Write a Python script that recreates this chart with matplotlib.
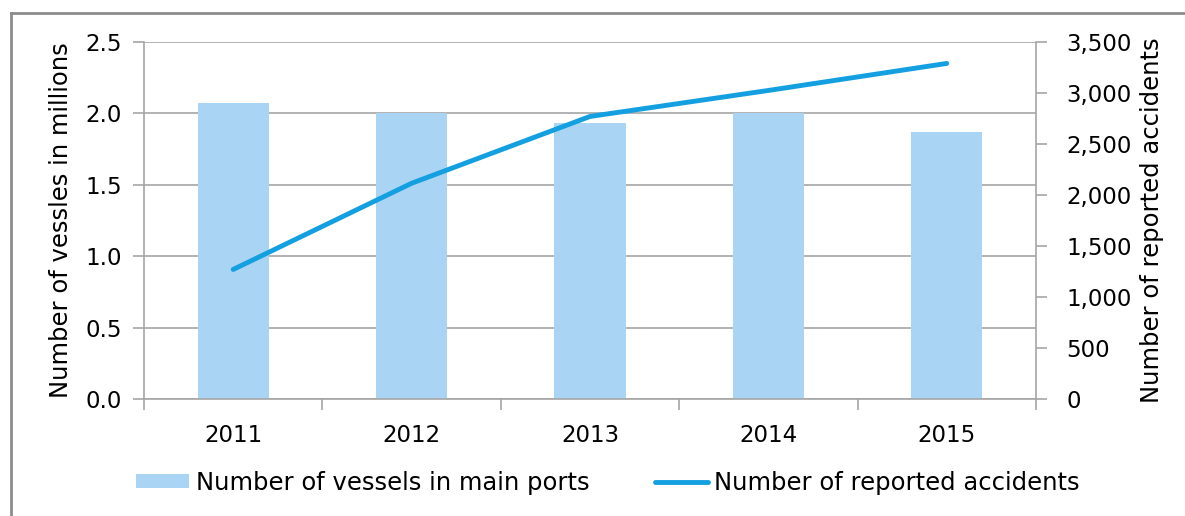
import numpy as np
import matplotlib
matplotlib.use("Agg")
from matplotlib import pyplot as plt
from matplotlib.lines import Line2D
from matplotlib.ticker import FuncFormatter

# vessels in main ports (millions) and reported accidents per year
years = ["2011", "2012", "2013", "2014", "2015"]
vessels = [2.07, 2.00, 1.93, 2.00, 1.87]
accidents = [1270, 2115, 2770, 3025, 3290]

bar_color = "#a9d4f4"
line_color = "#14a0e0"
grid_color = "#a6a6a6"

plt.rcParams["font.family"] = "DejaVu Sans"
plt.rcParams["font.size"] = 16.5

fig = plt.figure(figsize=(11.85, 5.16), dpi=100)
W, H = 1185, 516

# outer frame of the chart
fig.add_artist(Line2D([11 / W, 11 / W], [0, 1 - 13 / H], transform=fig.transFigure,
                      color="#8c8c8c", lw=2))
fig.add_artist(Line2D([11 / W, 1], [1 - 13 / H, 1 - 13 / H], transform=fig.transFigure,
                      color="#8c8c8c", lw=2))

ax = fig.add_axes([144 / W, (H - 399) / H, 892 / W, 357 / H])
x = np.arange(len(years))
bars = ax.bar(x, vessels, width=0.4, color=bar_color, zorder=2,
              label="Number of vessels in main ports")
ax.set_xlim(-0.5, len(years) - 0.5)
ax.set_ylim(0, 2.5)
ax.set_yticks(np.arange(0, 2.51, 0.5))
ax.yaxis.set_major_formatter(FuncFormatter(lambda v, p: f"{v:.1f}"))
ax.grid(axis="y", color=grid_color, lw=1.2, zorder=0)
ax.set_axisbelow(True)
ax.set_xticks(x)
ax.set_xticklabels(years)
ax.set_xticks(np.arange(-0.5, len(years), 1), minor=True)
ax.tick_params(axis="x", which="major", length=0, pad=18)
ax.tick_params(axis="x", which="minor", length=8, color=grid_color, width=1.2)
ax.tick_params(axis="y", length=8, color=grid_color, width=1.2, pad=8)
for s in ["left", "bottom", "right"]:
    ax.spines[s].set_color(grid_color)
    ax.spines[s].set_linewidth(1.2)
ax.spines["top"].set_visible(False)
ax.set_ylabel("Number of vessles in millions", fontsize=17.5, labelpad=9)

ax2 = ax.twinx()
line, = ax2.plot(x, accidents, color=line_color, lw=3.5, solid_capstyle="round",
                 zorder=3, label="Number of reported accidents")
ax2.set_ylim(0, 3500)
ax2.set_yticks(np.arange(0, 3501, 500))
ax2.yaxis.set_major_formatter(FuncFormatter(lambda v, p: f"{int(v):,}"))
ax2.tick_params(axis="y", length=8, color=grid_color, width=1.2, pad=14)
for s in ["left", "bottom", "right", "top"]:
    ax2.spines[s].set_visible(False)
ax2.set_ylabel("Number of reported accidents", fontsize=17.5, labelpad=6)

fig.legend([bars, line], [bars.get_label(), line.get_label()],
           loc="center", bbox_to_anchor=(608 / W, 1 - 483 / H), ncol=2,
           frameon=False, fontsize=17.5, handlelength=2.2, handleheight=0.5,
           handletextpad=0.25, columnspacing=2.7)

fig.savefig("out.png", dpi=100)
